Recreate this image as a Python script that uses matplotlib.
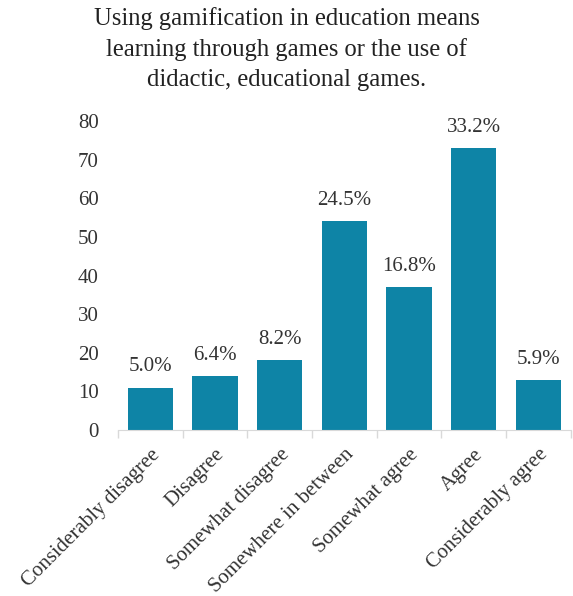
import matplotlib.pyplot as plt
import numpy as np

plt.rcParams['font.family'] = ['Liberation Serif', 'DejaVu Serif']

categories = ["Considerably disagree", "Disagree", "Somewhat disagree",
              "Somewhere in between", "Somewhat agree", "Agree", "Considerably agree"]
counts = [11, 14, 18, 54, 37, 73, 13]
percents = ["5.0%", "6.4%", "8.2%", "24.5%", "16.8%", "33.2%", "5.9%"]

fig = plt.figure(figsize=(5.73, 5.96), dpi=100)
ax = fig.add_axes([0.206, 0.2785, 0.79, 0.5185])

x = np.arange(len(categories))
ax.bar(x, counts, width=0.7, color="#0E84A6")

for xi, c, p in zip(x, counts, percents):
    ax.annotate(p, (xi, c), xytext=(0, 8), textcoords="offset points",
                ha="center", va="bottom", fontsize=15, color="#333333")

ax.set_ylim(0, 80)
ax.set_xlim(-0.5, len(categories) - 0.5)
ax.set_yticks(range(0, 81, 10))
ax.tick_params(axis="y", length=0, labelsize=15, labelcolor="#333333", pad=14)

ax.set_xticks(x)
ax.set_xticklabels(categories, rotation=45, ha="right", rotation_mode="anchor",
                   fontsize=15, color="#333333")
ax.tick_params(axis="x", length=0, pad=11)
# separator ticks between categories
ax.set_xticks(np.arange(-0.5, len(categories), 1), minor=True)
ax.tick_params(axis="x", which="minor", length=6, color="#d9d9d9", width=1)

for s in ["top", "right", "left"]:
    ax.spines[s].set_visible(False)
ax.spines["bottom"].set_color("#d9d9d9")

fig.suptitle("Using gamification in education means\nlearning through games or the use of\ndidactic, educational games.",
             fontsize=17.7, color="#222222", y=0.988, va="top", linespacing=1.45)

fig.savefig("out.png", dpi=100)
